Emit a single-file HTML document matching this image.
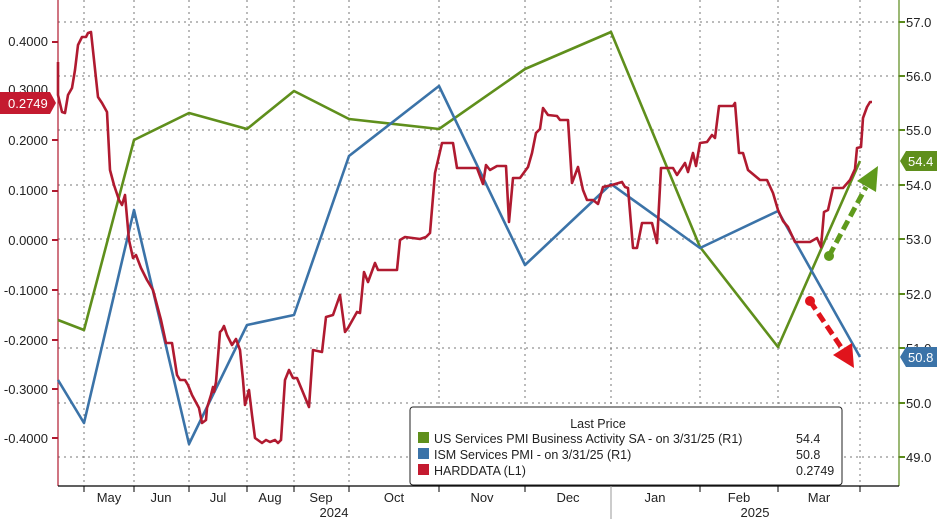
<!DOCTYPE html><html><head><style>body{margin:0;background:#fff}svg{display:block;font-family:"Liberation Sans",sans-serif}</style></head><body>
<svg width="937" height="519" viewBox="0 0 937 519">
<rect width="937" height="519" fill="#fff"/>
<g stroke="#777" stroke-width="1" stroke-dasharray="2,4">
<line x1="58" x2="899" y1="22" y2="22"/><line x1="58" x2="899" y1="76" y2="76"/><line x1="58" x2="899" y1="130" y2="130"/><line x1="58" x2="899" y1="185" y2="185"/><line x1="58" x2="899" y1="239" y2="239"/><line x1="58" x2="899" y1="294" y2="294"/><line x1="58" x2="899" y1="348" y2="348"/><line x1="58" x2="899" y1="403" y2="403"/><line x1="58" x2="899" y1="457" y2="457"/>
<line x1="84" x2="84" y1="0" y2="486"/><line x1="134" x2="134" y1="0" y2="486"/><line x1="189" x2="189" y1="0" y2="486"/><line x1="247" x2="247" y1="0" y2="486"/><line x1="294" x2="294" y1="0" y2="486"/><line x1="349" x2="349" y1="0" y2="486"/><line x1="439" x2="439" y1="0" y2="486"/><line x1="525" x2="525" y1="0" y2="486"/><line x1="611" x2="611" y1="0" y2="486"/><line x1="700" x2="700" y1="0" y2="486"/><line x1="778" x2="778" y1="0" y2="486"/><line x1="860" x2="860" y1="0" y2="486"/>
</g>
<line x1="58" y1="0" x2="58" y2="486" stroke="#b01a30" stroke-width="1.2"/>
<line x1="899" y1="0" x2="899" y2="486" stroke="#5a8a1a" stroke-width="1.2"/>
<line x1="58" y1="486" x2="899" y2="486" stroke="#000" stroke-width="1.2"/>
<g stroke="#000"><line x1="84" x2="84" y1="486" y2="492"/><line x1="134" x2="134" y1="486" y2="492"/><line x1="189" x2="189" y1="486" y2="492"/><line x1="247" x2="247" y1="486" y2="492"/><line x1="294" x2="294" y1="486" y2="492"/><line x1="349" x2="349" y1="486" y2="492"/><line x1="439" x2="439" y1="486" y2="492"/><line x1="525" x2="525" y1="486" y2="492"/><line x1="611" x2="611" y1="486" y2="519" stroke="#999"/><line x1="700" x2="700" y1="486" y2="492"/><line x1="778" x2="778" y1="486" y2="492"/><line x1="860" x2="860" y1="486" y2="492"/></g>
<g font-size="13" fill="#222" text-anchor="middle">
<text x="109" y="502">May</text><text x="161" y="502">Jun</text><text x="218" y="502">Jul</text><text x="270" y="502">Aug</text><text x="321" y="502">Sep</text><text x="394" y="502">Oct</text><text x="482" y="502">Nov</text><text x="568" y="502">Dec</text><text x="655" y="502">Jan</text><text x="739" y="502">Feb</text><text x="819" y="502">Mar</text>
<text x="334" y="517">2024</text><text x="755" y="517">2025</text></g>
<g font-size="13" fill="#222" text-anchor="end">
<text x="48" y="46">0.4000</text><text x="48" y="94">0.3000</text><text x="48" y="145">0.2000</text><text x="48" y="195">0.1000</text><text x="48" y="245">0.0000</text><text x="48" y="295">-0.1000</text><text x="48" y="345">-0.2000</text><text x="48" y="394">-0.3000</text><text x="48" y="443">-0.4000</text></g>
<g stroke="#b01a30" stroke-width="2"><line x1="52" x2="58" y1="42" y2="42"/><line x1="52" x2="58" y1="140" y2="140"/><line x1="52" x2="58" y1="191" y2="191"/><line x1="52" x2="58" y1="240" y2="240"/><line x1="52" x2="58" y1="290" y2="290"/><line x1="52" x2="58" y1="340" y2="340"/><line x1="52" x2="58" y1="389" y2="389"/><line x1="52" x2="58" y1="438" y2="438"/></g>
<g font-size="13" fill="#222"><text x="906" y="27">57.0</text><text x="906" y="81">56.0</text><text x="906" y="135">55.0</text><text x="906" y="190">54.0</text><text x="906" y="244">53.0</text><text x="906" y="299">52.0</text><text x="906" y="353">51.0</text><text x="906" y="408">50.0</text><text x="906" y="462">49.0</text></g>
<g stroke="#5a8a1a" stroke-width="2"><line x1="899" x2="905" y1="22" y2="22"/><line x1="899" x2="905" y1="76" y2="76"/><line x1="899" x2="905" y1="130" y2="130"/><line x1="899" x2="905" y1="185" y2="185"/><line x1="899" x2="905" y1="239" y2="239"/><line x1="899" x2="905" y1="294" y2="294"/><line x1="899" x2="905" y1="348" y2="348"/><line x1="899" x2="905" y1="403" y2="403"/><line x1="899" x2="905" y1="457" y2="457"/></g>
<polyline fill="none" stroke="#5f8f1c" stroke-width="2.6" stroke-linejoin="round" points="58,320 84,330 134,140 189,113 247,129 294,91 349,119 439,129 525,69 611,32 700,247 778,347 860,161"/>
<polyline fill="none" stroke="#3b73a8" stroke-width="2.6" stroke-linejoin="round" points="58,380 84,423 134,210 189,444 247,325 294,315 349,156 439,86 525,265 611,184 700,248 778,211 860,357"/>
<polyline fill="none" stroke="#b01a30" stroke-width="2.6" stroke-linejoin="round" points="58,62 58,95 62,112 65,113 68,95 72,88 75,70 78,45 82,37 86,37 88,33 91,32 98,97 102,103 107,112 110,170 114,185 119,200 122,205 125,195 129,240 133,258 136,255 141,268 147,280 153,290 157,305 161,320 166,343 172,343 177,375 180,380 185,380 188,385 192,395 199,408 202,423 206,420 207,408 211,395 213,387 214,392 216,382 220,332 222,330 224,326 227,335 232,345 236,339 240,350 243,380 245,405 249,390 252,415 255,438 262,443 266,440 270,442 275,440 278,443 281,440 285,380 289,370 293,378 297,378 302,390 309,407 313,350 322,352 326,317 333,315 340,295 345,332 348,328 357,312 360,313 364,272 368,282 375,263 378,270 397,270 400,240 405,237 420,239 426,237 430,233 435,173 442,143 453,143 457,168 477,168 483,184 486,165 490,170 497,166 506,166 509,222 513,178 520,178 528,167 532,153 536,133 540,129 543,108 548,115 557,116 560,120 568,120 572,183 578,167 583,190 587,200 593,200 598,204 603,187 612,185 622,182 625,187 628,188 633,248 637,248 642,223 652,223 657,243 661,168 673,168 677,175 685,163 688,172 693,153 696,166 700,143 707,142 712,135 715,138 719,106 733,106 735,103 739,153 743,153 748,170 760,180 767,180 773,193 778,210 783,221 788,227 795,242 810,242 817,238 821,247 824,212 828,210 833,188 843,188 850,180 855,169 857,148 861,147 863,118 867,107 870,102 872,102"/>
<line x1="829" y1="256" x2="866" y2="187" stroke="#5f9a1c" stroke-width="5" stroke-dasharray="10,5"/>
<circle cx="829" cy="256" r="5" fill="#5f9a1c"/>
<polygon points="878,166 857,181 876,192" fill="#5f9a1c"/>
<line x1="810" y1="301" x2="843" y2="350" stroke="#e0141c" stroke-width="5" stroke-dasharray="10,5"/>
<circle cx="810" cy="301" r="5" fill="#e0141c"/>
<polygon points="854,368 833,355 852,343" fill="#e0141c"/>
<polygon points="0,92 50,92 56,103 50,114 0,114" fill="#c41a30"/>
<text x="8" y="108" font-size="13" fill="#fff">0.2749</text>
<polygon points="900,161 906,151 937,151 937,171 906,171" fill="#5f8f1c"/>
<text x="908" y="166" font-size="13" fill="#fff">54.4</text>
<polygon points="900,357 906,347 937,347 937,367 906,367" fill="#3b73a8"/>
<text x="908" y="362" font-size="13" fill="#fff">50.8</text>
<rect x="410" y="407" width="432" height="78" rx="3" fill="#fff" stroke="#222" stroke-width="1"/>
<g font-size="12.5" fill="#222"><text x="598" y="428" text-anchor="middle">Last Price</text>
<rect x="418" y="432" width="11" height="11" fill="#5f8f1c"/><text x="434" y="443">US Services PMI Business Activity SA -  on 3/31/25  (R1)</text><text x="796" y="443">54.4</text>
<rect x="418" y="448" width="11" height="11" fill="#3b73a8"/><text x="434" y="459">ISM Services PMI -  on 3/31/25  (R1)</text><text x="796" y="459">50.8</text>
<rect x="418" y="464" width="11" height="11" fill="#c41a30"/><text x="434" y="475">HARDDATA  (L1)</text><text x="796" y="475">0.2749</text></g>
</svg></body></html>
